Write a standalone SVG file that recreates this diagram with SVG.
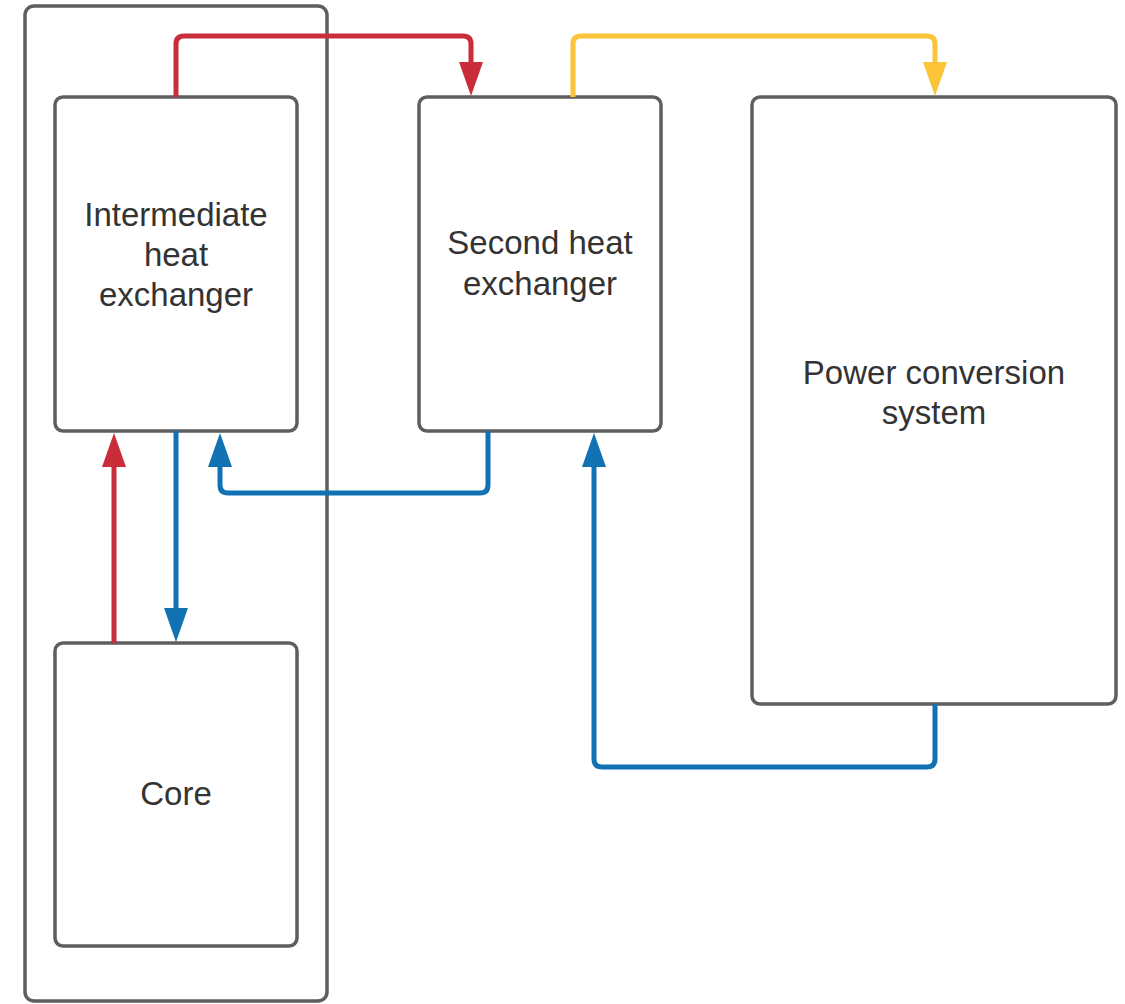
<svg xmlns="http://www.w3.org/2000/svg" width="1125" height="1004" viewBox="0 0 1125 1004">
<style>
.box{fill:#fff;stroke:#5e5e5e;stroke-width:3.5}
.outer{fill:none;stroke:#5e5e5e;stroke-width:3.5}
.lbl{font-family:"Liberation Sans",Arial,sans-serif;font-size:33px;fill:#333;text-anchor:middle}
.c{fill:none;stroke-width:5;stroke-linejoin:round}
.red{stroke:#c92d39}
.blue{stroke:#1071b3}
.yel{stroke:#fcc438}
</style>
<defs>
<marker id="ar" viewBox="0 0 34 24" refX="0" refY="12" markerWidth="34" markerHeight="24" markerUnits="userSpaceOnUse" orient="auto"><path d="M0,0 L34,12 L0,24 z" fill="#c92d39"/></marker>
<marker id="ab" viewBox="0 0 34 24" refX="0" refY="12" markerWidth="34" markerHeight="24" markerUnits="userSpaceOnUse" orient="auto"><path d="M0,0 L34,12 L0,24 z" fill="#1071b3"/></marker>
<marker id="ay" viewBox="0 0 34 24" refX="0" refY="12" markerWidth="34" markerHeight="24" markerUnits="userSpaceOnUse" orient="auto"><path d="M0,0 L34,12 L0,24 z" fill="#fcc438"/></marker>
</defs>
<g id="container"><rect class="outer" x="25" y="6" width="302" height="995" rx="9"/></g>
<g id="ihx"><rect class="box" x="55" y="97" width="242" height="334" rx="8"/>
<text class="lbl" x="176" y="226">Intermediate</text><text class="lbl" x="176" y="266">heat</text><text class="lbl" x="176" y="306">exchanger</text></g>
<g id="core"><rect class="box" x="55" y="643" width="242" height="303" rx="8"/>
<text class="lbl" x="176" y="805">Core</text></g>
<g id="shx"><rect class="box" x="419" y="97" width="242" height="334" rx="8"/>
<text class="lbl" x="540" y="254">Second heat</text><text class="lbl" x="540" y="295">exchanger</text></g>
<g id="pcs"><rect class="box" x="752" y="97" width="364" height="607" rx="8"/>
<text class="lbl" x="934" y="384">Power conversion</text><text class="lbl" x="934" y="424">system</text></g>
<g id="connectors">
<path class="c red" d="M176,97 V44 Q176,36 184,36 H463 Q471,36 471,44 V62" marker-end="url(#ar)"/>
<path class="c yel" d="M573,97 V44 Q573,36 581,36 H927 Q935,36 935,44 V62" marker-end="url(#ay)"/>
<path class="c red" d="M114,643 V467" marker-end="url(#ar)"/>
<path class="c blue" d="M176,431 V608" marker-end="url(#ab)"/>
<path class="c blue" d="M488,431 V485 Q488,493 480,493 H228 Q220,493 220,485 V467" marker-end="url(#ab)"/>
<path class="c blue" d="M935,704 V759 Q935,767 927,767 H602 Q594,767 594,759 V467" marker-end="url(#ab)"/>
</g>
</svg>
